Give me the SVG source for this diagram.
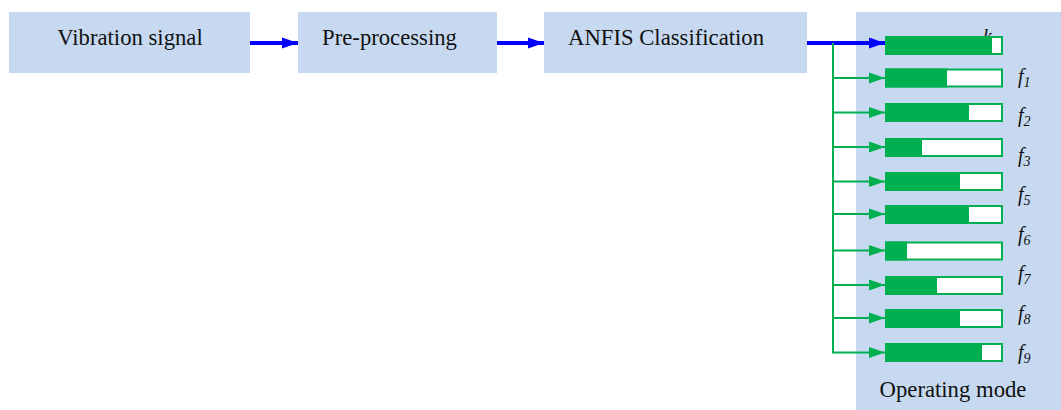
<svg xmlns="http://www.w3.org/2000/svg" width="1061" height="410" viewBox="0 0 1061 410">
<style>
.box{fill:#C6D9F0}
.t{font-family:"Liberation Serif","Times New Roman",serif;font-size:22.7px;fill:#111}
.fl{font-family:"Liberation Serif","Times New Roman",serif;font-style:italic;fill:#111;font-size:20px}
.sub{font-size:14px}
.bar{fill:#fff;stroke:#00B050;stroke-width:2}
.fill{fill:#00B050}
.blue{stroke:#0000FF;stroke-width:4;fill:none}
.green{stroke:#00B050;stroke-width:2;fill:none}
</style>
<defs>
<marker id="ab" markerUnits="userSpaceOnUse" markerWidth="16" markerHeight="12" refX="16" refY="6" orient="auto"><path d="M0,0.5 L16,6 L0,11.5 Z" fill="#0000FF"/></marker>
<marker id="ag" markerUnits="userSpaceOnUse" markerWidth="16" markerHeight="12" refX="16" refY="6" orient="auto"><path d="M0,0.5 L16,6 L0,11.5 Z" fill="#00B050"/></marker>
</defs>
<rect width="1061" height="410" fill="#fff"/>
<g id="n1"><rect class="box" x="9" y="12" width="241" height="61"/><text class="t" x="130" y="45" text-anchor="middle">Vibration signal</text></g>
<g id="n2"><rect class="box" x="298" y="12" width="199" height="61"/><text class="t" x="389.5" y="45" text-anchor="middle">Pre-processing</text></g>
<g id="n3"><rect class="box" x="544" y="12" width="263" height="61"/><text class="t" x="666" y="45" text-anchor="middle">ANFIS Classification</text></g>
<g id="n4">
<rect class="box" x="856" y="12" width="205" height="398"/>
<text class="fl" x="983" y="43">k</text>
<text class="t" x="953" y="397" text-anchor="middle">Operating mode</text>
<text class="fl" x="1018" y="83">f<tspan class="sub" dy="4">1</tspan></text>
<text class="fl" x="1018" y="122">f<tspan class="sub" dy="4">2</tspan></text>
<text class="fl" x="1018" y="162">f<tspan class="sub" dy="4">3</tspan></text>
<text class="fl" x="1018" y="201">f<tspan class="sub" dy="4">5</tspan></text>
<text class="fl" x="1018" y="241">f<tspan class="sub" dy="4">6</tspan></text>
<text class="fl" x="1018" y="280">f<tspan class="sub" dy="4">7</tspan></text>
<text class="fl" x="1018" y="320">f<tspan class="sub" dy="4">8</tspan></text>
<text class="fl" x="1018" y="359">f<tspan class="sub" dy="4">9</tspan></text>
</g>
<g id="bars">
<rect class="bar" x="886" y="37" width="116" height="17"/><rect class="fill" x="885" y="36" width="107" height="19"/>
<rect class="bar" x="886" y="69.5" width="116" height="17"/><rect class="fill" x="885" y="68.5" width="62" height="19"/>
<rect class="bar" x="886" y="104" width="116" height="17"/><rect class="fill" x="885" y="103" width="84" height="19"/>
<rect class="bar" x="886" y="139" width="116" height="17"/><rect class="fill" x="885" y="138" width="37" height="19"/>
<rect class="bar" x="886" y="173" width="116" height="17"/><rect class="fill" x="885" y="172" width="75" height="19"/>
<rect class="bar" x="886" y="206" width="116" height="17"/><rect class="fill" x="885" y="205" width="84" height="19"/>
<rect class="bar" x="886" y="242.5" width="116" height="17"/><rect class="fill" x="885" y="241.5" width="22" height="19"/>
<rect class="bar" x="886" y="277" width="116" height="17"/><rect class="fill" x="885" y="276" width="52" height="19"/>
<rect class="bar" x="886" y="310" width="116" height="17"/><rect class="fill" x="885" y="309" width="75" height="19"/>
<rect class="bar" x="886" y="344" width="116" height="17"/><rect class="fill" x="885" y="343" width="97" height="19"/>
</g>
<g id="connectors">
<line class="blue" x1="250" y1="43" x2="298" y2="43" marker-end="url(#ab)"/>
<line class="blue" x1="497" y1="43" x2="544" y2="43" marker-end="url(#ab)"/>
<line class="blue" x1="807" y1="43" x2="885" y2="43" marker-end="url(#ab)"/>
<line class="green" x1="833" y1="43" x2="833" y2="353"/>
<line class="green" x1="832" y1="78" x2="885" y2="78" marker-end="url(#ag)"/>
<line class="green" x1="832" y1="112.5" x2="885" y2="112.5" marker-end="url(#ag)"/>
<line class="green" x1="832" y1="147" x2="885" y2="147" marker-end="url(#ag)"/>
<line class="green" x1="832" y1="181.5" x2="885" y2="181.5" marker-end="url(#ag)"/>
<line class="green" x1="832" y1="214" x2="885" y2="214" marker-end="url(#ag)"/>
<line class="green" x1="832" y1="250.5" x2="885" y2="250.5" marker-end="url(#ag)"/>
<line class="green" x1="832" y1="285" x2="885" y2="285" marker-end="url(#ag)"/>
<line class="green" x1="832" y1="318" x2="885" y2="318" marker-end="url(#ag)"/>
<line class="green" x1="832" y1="352.5" x2="885" y2="352.5" marker-end="url(#ag)"/>
</g>
</svg>
